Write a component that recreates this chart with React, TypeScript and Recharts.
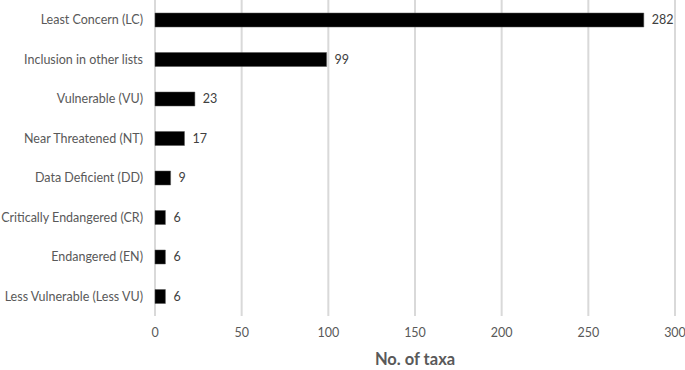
import React from "react";
import { BarChart, Bar, XAxis, YAxis, CartesianGrid, LabelList } from "recharts";

const categories = [
  "Least Concern (LC)",
  "Inclusion in other lists",
  "Vulnerable (VU)",
  "Near Threatened (NT)",
  "Data Deficient (DD)",
  "Critically Endangered (CR)",
  "Endangered (EN)",
  "Less Vulnerable (Less VU)",
];
const taxaCounts = [282, 99, 23, 17, 9, 6, 6, 6];
const xTicks = [0, 50, 100, 150, 200, 250, 300];

const data = categories.map((name, i) => ({ name, value: taxaCounts[i] }));

const FONT = "Lato, 'Open Sans', sans-serif";

const CategoryTick = (props: any) => {
  const { x, y, payload } = props;
  return (
    <text
      x={x}
      y={y}
      dy="0.355em"
      textAnchor="end"
      fill="#595959"
      fontSize={12.5}
      fontFamily={FONT}
    >
      {payload.value}
    </text>
  );
};

export default function App() {
  return (
    <div style={{ position: "absolute", left: 0, top: 0, width: 685, height: 370, background: "#fff" }}>
      <BarChart
        width={685}
        height={370}
        data={data}
        layout="vertical"
        margin={{ top: 0, right: 10, bottom: 0, left: 0 }}
      >
        <CartesianGrid horizontal={false} stroke="#d9d9d9" strokeWidth={2} />
        <XAxis
          type="number"
          domain={[0, 300]}
          ticks={xTicks}
          axisLine={false}
          tickLine={false}
          tickSize={0}
          tickMargin={12}
          height={54}
          tick={{ fill: "#595959", fontSize: 12.5, fontFamily: FONT }}
          label={{
            value: "No. of taxa",
            position: "insideBottom",
            offset: 5,
            fill: "#595959",
            fontSize: 16.5,
            fontWeight: "bold",
            fontFamily: FONT,
          }}
        />
        <YAxis
          type="category"
          dataKey="name"
          width={155}
          axisLine={false}
          tickLine={false}
          tickSize={0}
          tickMargin={12}
          interval={0}
          tick={<CategoryTick />}
        />
        <Bar dataKey="value" fill="#000" stroke="#555" strokeWidth={0.5} barSize={14} isAnimationActive={false}>
          <LabelList
            dataKey="value"
            position="right"
            offset={8}
            fill="#404040"
            fontSize={12.5}
            fontFamily={FONT}
          />
        </Bar>
      </BarChart>
    </div>
  );
}
